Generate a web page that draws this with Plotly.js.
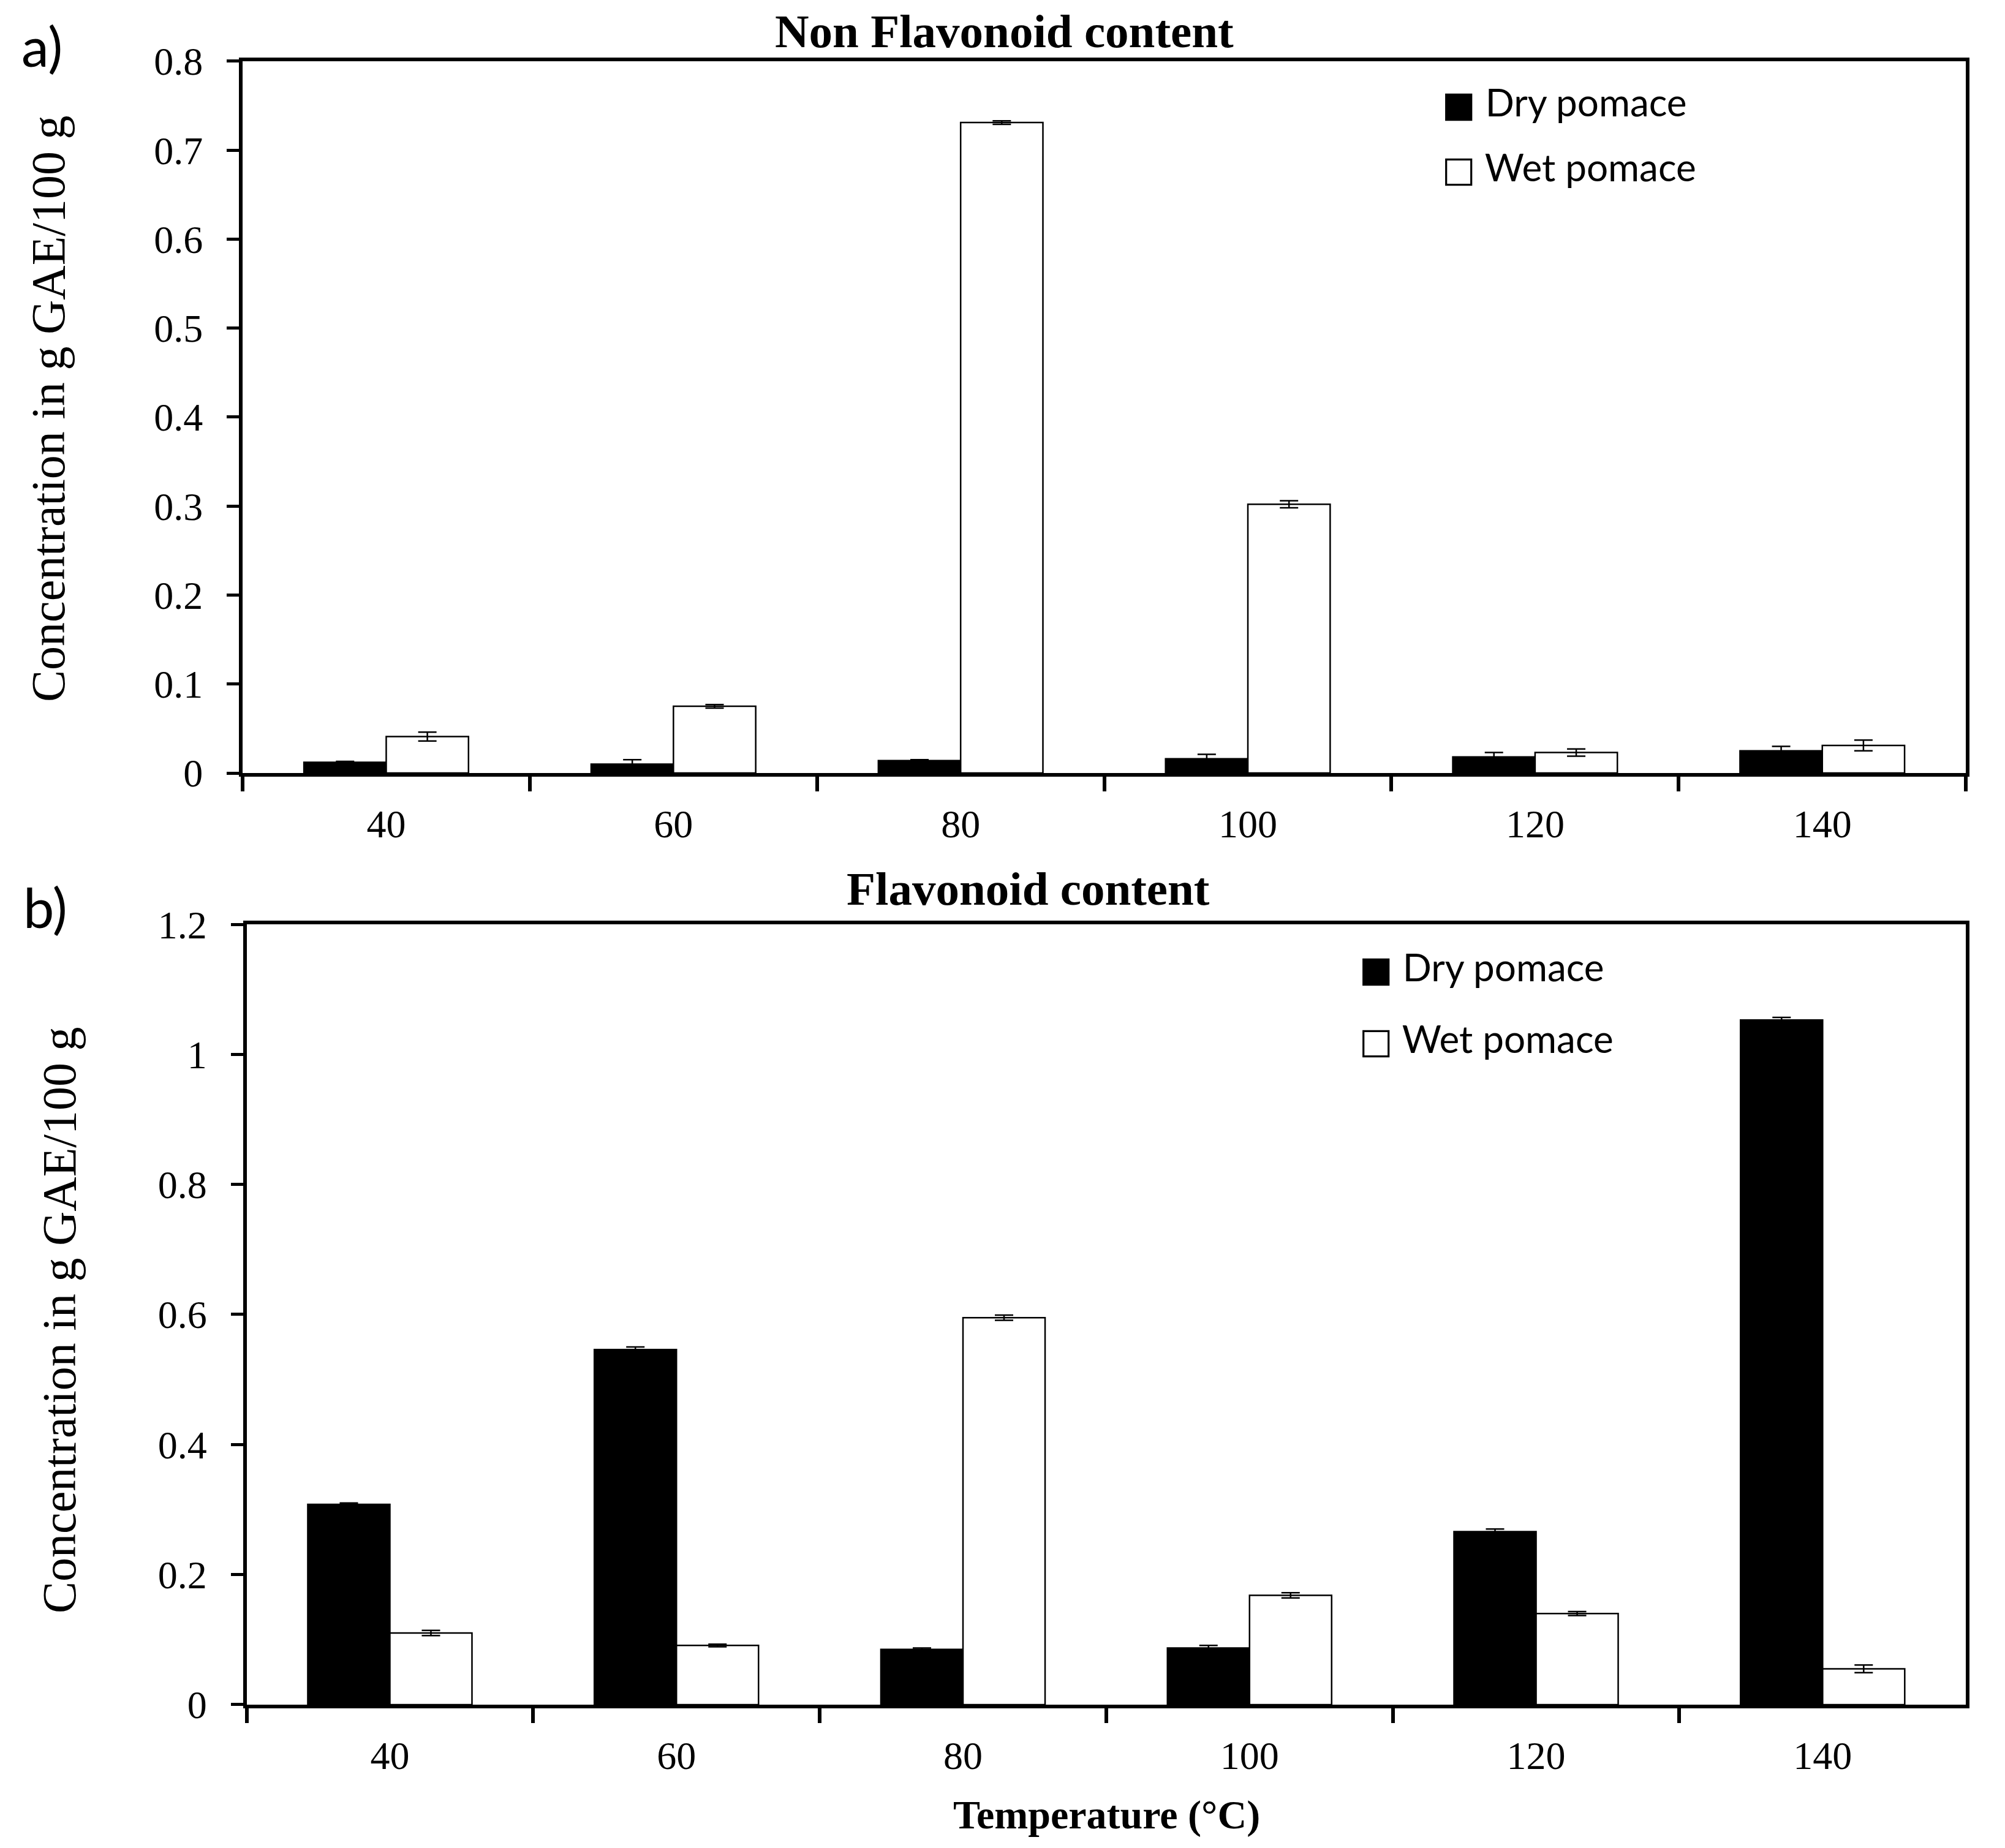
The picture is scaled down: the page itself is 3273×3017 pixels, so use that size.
<!DOCTYPE html>
<html>
<head>
<meta charset="utf-8">
<script src="https://cdn.plot.ly/plotly-3.0.1.min.js"></script>
<style>body{margin:0;background:#fff;}</style>
</head>
<body>
<div id="myDiv" style="width:3273px;height:3017px;"></div>
<script>
var temps = ['40', '60', '80', '100', '120', '140'];

// a) non flavonoid content
var nonFlavDry = [0.012, 0.010, 0.014, 0.016, 0.018, 0.025];
var nonFlavDryErr = [0.001, 0.005, 0.001, 0.005, 0.005, 0.005];
var nonFlavWet = [0.041, 0.075, 0.731, 0.302, 0.023, 0.031];
var nonFlavWetErr = [0.005, 0.002, 0.002, 0.004, 0.004, 0.006];

// b) flavonoid content
var flavDry = [0.308, 0.546, 0.085, 0.087, 0.266, 1.053];
var flavDryErr = [0.002, 0.004, 0.002, 0.004, 0.004, 0.004];
var flavWet = [0.110, 0.091, 0.595, 0.168, 0.140, 0.055];
var flavWetErr = [0.004, 0.002, 0.004, 0.004, 0.003, 0.006];

var serif = 'Liberation Serif, Times New Roman, serif';
var sans = 'Lato, Open Sans, sans-serif';
var W = 3273, H = 3017;

function errBar(arr) {
  return { type: 'data', array: arr, visible: true, color: '#000', thickness: 2.5, width: 15 };
}

function barTrace(y, err, fill, xa, ya) {
  return {
    type: 'bar', x: temps, y: y, xaxis: xa, yaxis: ya,
    marker: { color: fill, line: { color: '#000', width: 2.5 } },
    error_y: errBar(err),
    showlegend: false, hoverinfo: 'x+y'
  };
}

var data = [
  barTrace(nonFlavDry, nonFlavDryErr, '#000', 'x', 'y'),
  barTrace(nonFlavWet, nonFlavWetErr, '#fff', 'x', 'y'),
  barTrace(flavDry, flavDryErr, '#000', 'x2', 'y2'),
  barTrace(flavWet, flavWetErr, '#fff', 'x2', 'y2')
];

var xBase = {
  type: 'category', showline: true, linecolor: '#000', linewidth: 6, mirror: true,
  ticks: 'outside', tickson: 'boundaries', ticklen: 24, tickwidth: 6, tickcolor: '#000',
  ticklabelstandoff: 22,
  tickfont: { family: serif, size: 64, color: '#000' },
  showgrid: false, zeroline: false, fixedrange: true
};
var yBase = {
  showline: true, linecolor: '#000', linewidth: 6, mirror: true,
  ticks: 'outside', ticklen: 20, tickwidth: 5, tickcolor: '#000',
  ticklabelstandoff: 26,
  tickfont: { family: serif, size: 64, color: '#000' },
  showgrid: false, zeroline: false, fixedrange: true
};

/* text placed by pixel position of its centre */
function label(text, px, py, size, family, extra) {
  var a = {
    text: text, x: px / W, y: 1 - py / H, xref: 'paper', yref: 'paper',
    xanchor: 'center', yanchor: 'middle', showarrow: false,
    font: { family: family, size: size, color: '#000' }
  };
  return Object.assign(a, extra || {});
}

var sq = '<span style="font-family:DejaVu Sans;font-size:58px">';
var legendDry = sq + '■</span> Dry pomace';
var legendWet = sq + '□</span> Wet pomace';

var layout = {
  width: W,
  height: H,
  margin: { t: 0, r: 0, b: 0, l: 0 },
  paper_bgcolor: '#fff',
  plot_bgcolor: '#fff',
  barmode: 'group',
  bargap: 0.427,
  bargroupgap: 0,
  showlegend: false,
  xaxis: Object.assign({}, xBase, { domain: [0.121, 0.9805], anchor: 'y' }),
  yaxis: Object.assign({}, yBase, { domain: [0.5817, 0.9669], range: [0, 0.8], dtick: 0.1, anchor: 'x' }),
  xaxis2: Object.assign({}, xBase, { domain: [0.123, 0.9805], anchor: 'y2' }),
  yaxis2: Object.assign({}, yBase, { domain: [0.0776, 0.4998], range: [0, 1.2], dtick: 0.2, anchor: 'x2' }),
  annotations: [
    /* panel letters */
    label('a)', 68, 74, 90, sans),
    label('b)', 74, 1480, 90, sans),
    /* titles */
    label('<b>Non Flavonoid content</b>', 1640, 51, 77, serif),
    label('<b>Flavonoid content</b>', 1678, 1451, 77, serif),
    label('<b>Temperature (°C)</b>', 1806, 2963, 66, serif),
    /* y titles */
    label('Concentration in g GAE/100 g', 78, 667, 78, 'Liberation Serif', { textangle: -90 }),
    label('Concentration in g GAE/100 g', 96, 2155, 78, 'Liberation Serif', { textangle: -90 }),
    /* legends */
    label(legendDry, 2352, 167, 62, sans, { xanchor: 'left' }),
    label(legendWet, 2352, 272, 62, sans, { xanchor: 'left' }),
    label(legendDry, 2217, 1578, 62, sans, { xanchor: 'left' }),
    label(legendWet, 2217, 1695, 62, sans, { xanchor: 'left' })
  ]
};

Plotly.newPlot('myDiv', data, layout, { staticPlot: true });
</script>
</body>
</html>
